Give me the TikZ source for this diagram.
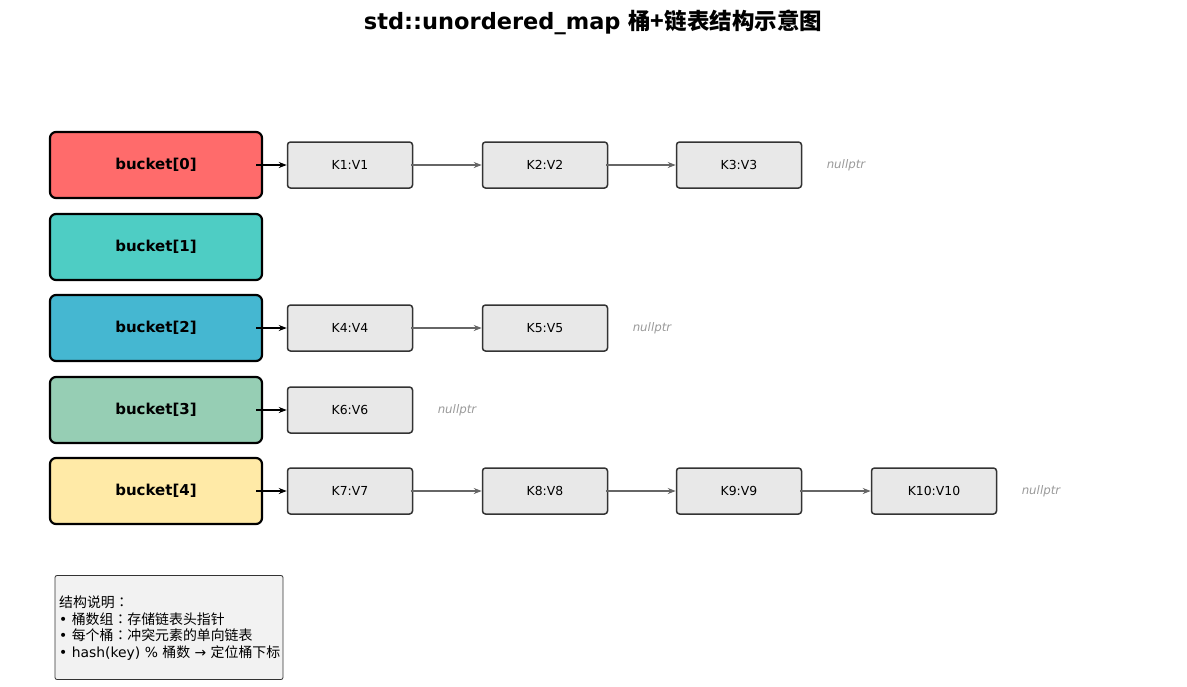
\documentclass[tikz,border=0pt]{standalone}
\usepackage{fontspec}
\setmainfont{DejaVu Sans}
\newfontfamily\cjk{Noto Sans CJK SC}
\newfontfamily\cjktc{Noto Sans CJK TC}
\usetikzlibrary{arrows.meta}
\definecolor{bzero}{HTML}{FF6B6B}
\definecolor{bone}{HTML}{4ECDC4}
\definecolor{btwo}{HTML}{45B7D1}
\definecolor{bthree}{HTML}{96CEB4}
\definecolor{bfour}{HTML}{FFEAA7}
\definecolor{nodefill}{HTML}{E8E8E8}
\definecolor{nodeline}{HTML}{333333}
\definecolor{linkgray}{HTML}{666666}
\definecolor{nullgray}{HTML}{999999}
\definecolor{legfill}{HTML}{F2F2F2}
\newcommand{\cc}{{\cjktc ：}}
\tikzset{
  bucketbox/.style={draw=black, line width=2.2pt, rounded corners=6pt, minimum width=212pt, minimum height=66pt, inner sep=0pt, font=\fontsize{15}{18}\selectfont\bfseries},
  kvbox/.style={draw=nodeline, fill=nodefill, line width=1.5pt, rounded corners=3pt, minimum width=125pt, minimum height=46pt, inner sep=0pt, font=\fontsize{12.4}{14}\selectfont},
  nullnode/.style={text=nullgray, font=\fontsize{11.8}{14}\selectfont\itshape, inner sep=0pt},
  headarrow/.style={-{Stealth[length=8pt,width=6pt]}, line width=2pt, black},
  linkarrow/.style={-{Stealth[length=8pt,width=6pt]}, line width=1.5pt, linkgray},
}
\begin{document}
\begin{tikzpicture}[x=1pt,y=-1pt]
\useasboundingbox (0,0) rectangle (1187,686);
\node[font=\fontsize{22.5}{26}\selectfont\bfseries] (title) at (593,22) {std::unordered\_map {\cjk 桶+链表结构示意图}};

\node[bucketbox, fill=bzero] (b0) at (156,165) {bucket[0]};
\node[bucketbox, fill=bone] (b1) at (156,247) {bucket[1]};
\node[bucketbox, fill=btwo] (b2) at (156,328) {bucket[2]};
\node[bucketbox, fill=bthree] (b3) at (156,410) {bucket[3]};
\node[bucketbox, fill=bfour] (b4) at (156,491) {bucket[4]};

% row 0
\node[kvbox] (k1) at (350,165) {K1:V1};
\node[kvbox] (k2) at (545,165) {K2:V2};
\node[kvbox] (k3) at (739,165) {K3:V3};
\node[nullnode] (n0) at (846,165) {nullptr};
% row 2
\node[kvbox] (k4) at (350,328) {K4:V4};
\node[kvbox] (k5) at (545,328) {K5:V5};
\node[nullnode] (n2) at (652,328) {nullptr};
% row 3
\node[kvbox] (k6) at (350,410) {K6:V6};
\node[nullnode] (n3) at (457,410) {nullptr};
% row 4
\node[kvbox] (k7) at (350,491) {K7:V7};
\node[kvbox] (k8) at (545,491) {K8:V8};
\node[kvbox] (k9) at (739,491) {K9:V9};
\node[kvbox] (k10) at (934,491) {K10:V10};
\node[nullnode] (n4) at (1041,491) {nullptr};

% head arrows
\draw[headarrow] ([xshift=-7pt]b0.east) -- (k1.west);
\draw[headarrow] ([xshift=-7pt]b2.east) -- (k4.west);
\draw[headarrow] ([xshift=-7pt]b3.east) -- (k6.west);
\draw[headarrow] ([xshift=-7pt]b4.east) -- (k7.west);

% link arrows
\draw[linkarrow] ([xshift=-2pt]k1.east) -- (k2.west);
\draw[linkarrow] ([xshift=-2pt]k2.east) -- (k3.west);
\draw[linkarrow] ([xshift=-2pt]k4.east) -- (k5.west);
\draw[linkarrow] ([xshift=-2pt]k7.east) -- (k8.west);
\draw[linkarrow] ([xshift=-2pt]k8.east) -- (k9.west);
\draw[linkarrow] ([xshift=-2pt]k9.east) -- (k10.west);

% legend
\node[draw=nodeline, fill=legfill, line width=0.8pt, rounded corners=2pt, minimum width=228pt, minimum height=104pt, inner sep=0pt] (legbox) at (169,627.5) {};
\node[anchor=west, align=left, inner sep=0pt, font=\fontsize{13.9}{16.7}\selectfont] (legtext) at (59,628)
{{\cjk 结构说明}\cc\\
• {\cjk 桶数组}\cc{\cjk 存储链表头指针}\\
• {\cjk 每个桶}\cc{\cjk 冲突元素的单向链表}\\
• hash(key) \% {\cjk 桶数} → {\cjk 定位桶下标}};
\end{tikzpicture}
\end{document}
